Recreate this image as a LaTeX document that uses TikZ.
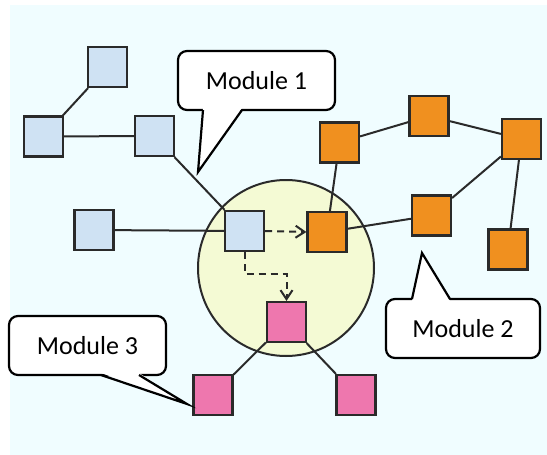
\documentclass[tikz,border=0pt]{standalone}
\usepackage{fontspec}
\setmainfont{Carlito}
\usetikzlibrary{arrows.meta}
\definecolor{bgcol}{RGB}{240,253,255}
\definecolor{bluebox}{RGB}{207,226,243}
\definecolor{orangebox}{RGB}{240,144,31}
\definecolor{pinkbox}{RGB}{238,119,174}
\definecolor{hubfill}{RGB}{244,250,212}
\definecolor{ink}{RGB}{42,42,42}
\tikzset{
  sq/.style={draw=ink, line width=2.2pt, inner sep=0pt, minimum width=39pt, minimum height=40pt},
  bsq/.style={sq, fill=bluebox},
  osq/.style={sq, fill=orangebox},
  psq/.style={sq, fill=pinkbox},
  link/.style={draw=ink, line width=2pt},
  flow/.style={draw=ink, line width=2pt, dash pattern=on 7pt off 5pt, -{Straight Barb[length=9pt,width=12pt,line width=2pt]}},
  callout/.style={draw=black, fill=white, line width=2.2pt, rounded corners=9pt, inner sep=0pt,
    font=\fontsize{26}{30}\selectfont},
  tailside/.style={draw=black, line width=2.2pt, line join=miter}
}
\begin{document}
\begin{tikzpicture}[x=1pt, y=-1pt]
\useasboundingbox (0,0) rectangle (547,455);
\fill[bgcol] (10,5) rectangle (547,455);

% shared region
\node[circle, draw=ink, line width=2pt, fill=hubfill, minimum size=176pt, inner sep=0pt] (hub) at (286,268) {};

% module 1 (blue)
\node[bsq] (b1) at (107.5,67) {};
\node[bsq] (b2) at (43.5,136.5) {};
\node[bsq] (b3) at (154.5,136) {};
\node[bsq] (b4) at (94,230) {};
\node[bsq] (b5) at (244.5,231) {};

% module 2 (orange)
\node[osq] (o1) at (339.5,142.5) {};
\node[osq] (o2) at (429,116) {};
\node[osq] (o3) at (521.5,139) {};
\node[osq] (o4) at (431.5,215.5) {};
\node[osq] (o5) at (508,249.5) {};
\node[osq] (o6) at (327,232) {};

% module 3 (pink)
\node[psq] (p1) at (286.5,322) {};
\node[psq] (p2) at (213,395) {};
\node[psq] (p3) at (356,395) {};

% links
\draw[link] (b1) -- (b2);
\draw[link] (b2) -- (b3);
\draw[link] (b3) -- (b5);
\draw[link] (b4) -- (b5);
\draw[link] (o6) -- (o1);
\draw[link] (o6) -- (o4);
\draw[link] (o1) -- (o2);
\draw[link] (o2) -- (o3);
\draw[link] (o3) -- (o4);
\draw[link] (o3) -- (o5);
\draw[link] (p1) -- (p2);
\draw[link] (p1) -- (p3);

% dashed flows out of the shared node
\draw[flow] (b5.east) -- (o6.west);
\draw[flow] (b5.south) -- ++(0,22) -| (p1.north);

% callouts
\node[callout, minimum width=157pt, minimum height=59pt] (m1) at (256.5,80.5) {Module 1};
\fill[white] (203,108) -- (198,172) -- (242,108) -- cycle;
\draw[tailside] (203,110) -- (198,172) -- (242,110);

\node[callout, minimum width=154pt, minimum height=59pt] (m2) at (463,328.5) {Module 2};
\fill[white] (412,301) -- (422,253) -- (450,301) -- cycle;
\draw[tailside] (412,299) -- (422,253) -- (450,299);

\node[callout, minimum width=157pt, minimum height=59pt] (m3) at (87.5,345.5) {Module 3};
\fill[white] (101,373) -- (187,404) -- (139,373) -- cycle;
\draw[tailside] (101,375) -- (187,404) -- (139,375);
\end{tikzpicture}
\end{document}
